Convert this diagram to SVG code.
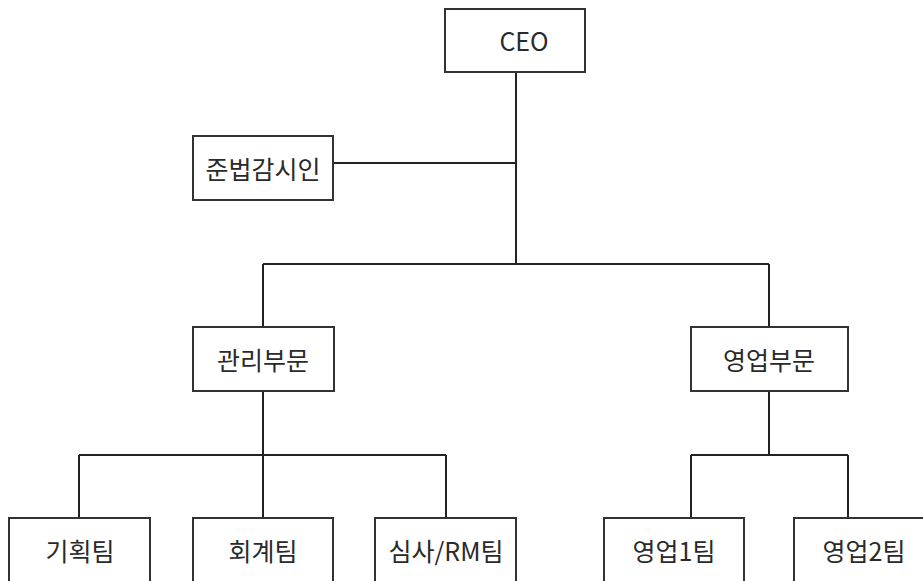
<svg xmlns="http://www.w3.org/2000/svg" width="923" height="581" viewBox="0 0 923 581">
<style>
.box{fill:#fff;stroke:#333;stroke-width:2}
.ln{fill:none;stroke:#222;stroke-width:2}
text{font-family:"Noto Sans CJK KR","Noto Sans",sans-serif;font-size:25px;fill:#2a2a2a;text-anchor:middle;dominant-baseline:central}
</style>
<rect width="923" height="581" fill="#fff"/>
<g id="connectors">
<path class="ln" d="M516 72V264M333 163H516M263 264H769M263 264V327M769 264V327"/>
<path class="ln" d="M263 391V455M79 455H446M79 455V518M263 455V518M446 455V518"/>
<path class="ln" d="M769 391V455M691 455H848M691 455V518M848 455V518"/>
</g>
<g id="ceo"><rect class="box" x="445" y="9" width="140" height="63"/><text x="524" y="40">CEO</text></g>
<g id="compliance"><rect class="box" x="193" y="136" width="140" height="64"/><text x="263" y="168">준법감시인</text></g>
<g id="admin"><rect class="box" x="193" y="327" width="141" height="64"/><text x="263" y="359">관리부문</text></g>
<g id="sales"><rect class="box" x="691" y="327" width="157" height="64"/><text x="769" y="359">영업부문</text></g>
<g id="planning"><rect class="box" x="9" y="518" width="141" height="80"/><text x="80" y="550">기획팀</text></g>
<g id="accounting"><rect class="box" x="193" y="518" width="140" height="80"/><text x="263" y="550">회계팀</text></g>
<g id="review"><rect class="box" x="375" y="518" width="141" height="80"/><text x="446" y="550">심사/RM팀</text></g>
<g id="sales1"><rect class="box" x="604" y="518" width="140" height="80"/><text x="674" y="550">영업1팀</text></g>
<g id="sales2"><rect class="box" x="794" y="518" width="140" height="80"/><text x="864" y="550">영업2팀</text></g>
</svg>
